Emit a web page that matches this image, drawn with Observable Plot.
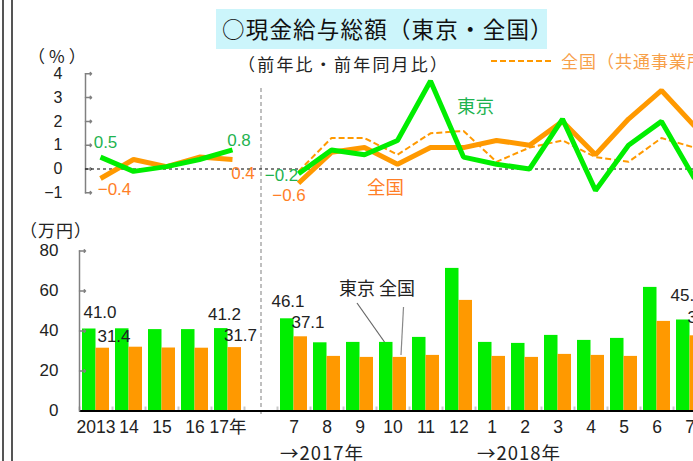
<!DOCTYPE html>
<html><head><meta charset="utf-8">
<script src="https://cdn.jsdelivr.net/npm/d3@7"></script>
<script src="https://cdn.jsdelivr.net/npm/@observablehq/plot@0.6"></script>
<style>
body{margin:0;background:#fff;}
#wrap{position:relative;width:693px;height:461px;overflow:hidden;background:#fff;font-family:"Liberation Sans","Noto Sans CJK JP",sans-serif;color:#222;}
.abs{position:absolute;white-space:nowrap;line-height:1;}
.jp{font-family:"Noto Sans CJK JP",sans-serif;}
#wrap svg{position:absolute;left:0;top:0;}
</style></head><body>
<div id="wrap">
  <div class="abs" style="left:2px;top:0;width:2px;height:461px;background:#555"></div>
  <div class="abs" style="left:11px;top:0;width:1.5px;height:461px;background:#555"></div>
  <div class="abs jp" style="left:216px;top:9px;width:331px;height:40px;background:#ccf5fb"></div>
  <div class="abs jp" id="title" style="left:222px;top:17px;font-size:22.5px;letter-spacing:1.2px;color:#111"></div>
  <div class="abs jp" id="subtitle" style="left:238px;top:55px;font-size:17px;letter-spacing:2.2px;color:#222"></div>
  <svg width="70" height="6" style="left:490px;top:58px;position:absolute"><line x1="1" x2="63" y1="3" y2="3" stroke="#ff9900" stroke-width="2" stroke-dasharray="6,3"/></svg>
  <div class="abs jp" id="legend" style="left:561px;top:52px;font-size:17px;letter-spacing:1px;color:#f7a04a"></div>
  <div class="abs jp" id="unitPct" style="left:28px;top:47px;font-size:17px;letter-spacing:4px"></div>
  <div class="abs jp" id="unitYen" style="left:20px;top:221px;font-size:17px;letter-spacing:1px"></div>
  <div class="abs jp" id="lblTokyo" style="left:457px;top:96px;font-size:18.5px;color:#1fb350"></div>
  <div class="abs jp" id="lblZenkoku" style="left:367px;top:177px;font-size:18.5px;color:#ff7f27"></div>
  <div class="abs jp" id="lblBars" style="left:339px;top:278px;font-size:18px;color:#222"></div>
  <div class="abs jp" id="yr2017" style="left:280px;top:443px;font-size:18.5px;letter-spacing:1px"></div>
  <div class="abs jp" id="yr2018" style="left:477px;top:443px;font-size:18.5px;letter-spacing:1px"></div>
</div>
<script>
// ---- text ----
const titleText = "○現金給与総額（東京・全国）";
const subtitleText = "（前年比・前年同月比）";
const legendText = "全国（共通事業所）";
const unitPctText = "（%）";
const unitYenText = "（万円）";
const tokyoName = "東京";
const zenkokuName = "全国";
const yearNotes = ["→2017年", "→2018年"];

// ---- categories ----
const annualSlots = ["2013", "2014", "2015", "2016", "2017"];
const gapSlot = "gap";
const monthlySlots = ["2017-07","2017-08","2017-09","2017-10","2017-11","2017-12",
  "2018-01","2018-02","2018-03","2018-04","2018-05","2018-06","2018-07"];
const slots = [...annualSlots, gapSlot, ...monthlySlots];
const slotLabels = ["2013","14","15","16","17年","","7","8","9","10","11","12","1","2","3","4","5","6","7"];

// ---- percent change (top) ----
const tokyoAnnualPct   = [0.5, -0.1, 0.1, 0.4, 0.8];
const zenkokuAnnualPct = [-0.4, 0.4, 0.1, 0.5, 0.4];
const tokyoMonthlyPct   = [-0.2, 0.8, 0.6, 1.2, 3.7, 0.5, 0.2, 0.0, 2.1, -0.9, 1.0, 2.0, -0.4];
const zenkokuMonthlyPct = [-0.6, 0.7, 0.9, 0.2, 0.9, 0.9, 1.2, 1.0, 2.0, 0.6, 2.1, 3.3, 1.8];
const kyotsuMonthlyPct  = [-0.1, 1.3, 1.3, 0.6, 1.5, 1.6, 0.3, 0.9, 1.2, 0.5, 0.3, 1.3, 0.9];
const pctTicks = [-1, 0, 1, 2, 3, 4];

// ---- wages, 10k yen (bottom) ----
const tokyoAnnualWage   = [41.0, 41.1, 40.7, 40.7, 41.2];
const zenkokuAnnualWage = [31.4, 31.9, 31.5, 31.4, 31.7];
const tokyoMonthlyWage   = [46.1, 34.1, 34.3, 34.3, 36.8, 71.3, 34.3, 33.8, 37.8, 35.3, 36.3, 61.8, 45.5];
const zenkokuMonthlyWage = [37.1, 27.3, 26.8, 26.8, 27.8, 55.3, 27.3, 26.8, 28.3, 27.8, 27.3, 44.8, 37.6];
const wageTicks = [0, 20, 40, 60, 80];

// ---- colors ----
const GREEN = "#00ee00", ORANGE = "#ff9900";
const GREEN_TXT = "#1fb350", ORANGE_TXT = "#ff7f27";
const FONT = "Liberation Sans, Noto Sans CJK JP, sans-serif";
const f1 = d3.format(".1f");

// HTML texts
document.getElementById("title").textContent = titleText;
document.getElementById("subtitle").textContent = subtitleText;
document.getElementById("legend").textContent = legendText;
document.getElementById("unitPct").textContent = unitPctText;
document.getElementById("unitYen").textContent = unitYenText;
document.getElementById("lblTokyo").textContent = tokyoName;
document.getElementById("lblZenkoku").textContent = zenkokuName;
document.getElementById("lblBars").textContent = tokyoName + " " + zenkokuName;
document.getElementById("yr2017").textContent = yearNotes[0];
document.getElementById("yr2018").textContent = yearNotes[1];

// ---- rows ----
const rows = (slotsArr, vals, series, seg) => slotsArr.map((slot, i) => ({slot, v: vals[i], series, seg}));
const tokyoPct = [...rows(annualSlots, tokyoAnnualPct, "tokyo", "a"), ...rows(monthlySlots, tokyoMonthlyPct, "tokyo", "m")];
const zenPct = [...rows(annualSlots, zenkokuAnnualPct, "zen", "a"), ...rows(monthlySlots, zenkokuMonthlyPct, "zen", "m")];
const kyoPct = rows(monthlySlots, kyotsuMonthlyPct, "kyo", "m");

const tokyoWage = [...rows(annualSlots, tokyoAnnualWage, "tokyo"), ...rows(monthlySlots, tokyoMonthlyWage, "tokyo")];
const zenWage = [...rows(annualSlots, zenkokuAnnualWage, "zen"), ...rows(monthlySlots, zenkokuMonthlyWage, "zen")];

const lbl = (data, opts) => Plot.text(data, {x: "slot", y: "v", text: d => f1(d.v), fontSize: 17, ...opts});

// ---- top plot ----
const topPlot = Plot.plot({
  width: 693, height: 220,
  marginLeft: 85, marginRight: 0, marginTop: 73.3, marginBottom: 27.7,
  style: {background: "transparent", fontFamily: FONT},
  x: {type: "point", domain: slots, range: [100, 694], padding: 0, axis: null},
  y: {domain: [-1, 4], axis: null},
  marks: [
    Plot.frame({anchor: "left", stroke: "#808080", strokeWidth: 1.5}),
    Plot.vector(pctTicks, {y: d => d, frameAnchor: "left", length: 6, rotate: 90, anchor: "start", stroke: "#808080", strokeWidth: 1.5}),
    Plot.text(pctTicks, {y: d => d, frameAnchor: "left", dx: -23, textAnchor: "end", text: d => d3.format("")(d), fontSize: 16, fill: "#222"}),
    Plot.ruleY([0], {stroke: "#000", strokeWidth: 1, strokeDasharray: "3,3"}),
    Plot.line(kyoPct, {x: "slot", y: "v", stroke: ORANGE, strokeWidth: 2, strokeDasharray: "6,3", strokeLinejoin: "miter", strokeLinecap: "butt"}),
    Plot.line(zenPct, {x: "slot", y: "v", z: "seg", stroke: ORANGE, strokeWidth: 5, strokeLinejoin: "miter", strokeLinecap: "butt"}),
    Plot.line(tokyoPct, {x: "slot", y: "v", z: "seg", stroke: GREEN, strokeWidth: 5, strokeLinejoin: "miter", strokeLinecap: "butt"}),
    lbl([tokyoPct[0]], {fill: GREEN_TXT, dx: 5, dy: -14.6}),
    lbl([zenPct[0]], {fill: ORANGE_TXT, dx: 14, dy: 11}),
    lbl([tokyoPct[4]], {fill: GREEN_TXT, dx: 6.5, dy: -9.5}),
    lbl([zenPct[4]], {fill: ORANGE_TXT, dx: 10.5, dy: 14.5}),
    lbl([tokyoPct[5]], {fill: GREEN_TXT, dx: -17, dy: 2}),
    lbl([zenPct[5]], {fill: ORANGE_TXT, dx: -9.5, dy: 12})
  ]
});

// ---- bottom plot ----
const bottomPlot = Plot.plot({
  width: 693, height: 461,
  marginLeft: 79, marginRight: 0, marginTop: 250.5, marginBottom: 50.5,
  style: {background: "transparent", fontFamily: FONT},
  x: {type: "band", domain: slots, range: [79, 706], paddingInner: 6 / 33, paddingOuter: 3 / 33, align: 0.5, axis: null},
  y: {domain: [0, 80], axis: null},
  marks: [
    Plot.ruleX([gapSlot], {x: d => d, stroke: "#aaa", strokeWidth: 1.5, strokeDasharray: "4,3", insetTop: -162.5, insetBottom: -6.5}),
    Plot.ruleX(slots, {x: d => d, y1: 0, y2: 2, dx: -16.5, stroke: "#c8c8c8", strokeWidth: 2}),
    Plot.barY(tokyoWage, {x: "slot", y: "v", fill: GREEN, insetRight: 13.5}),
    Plot.barY(zenWage, {x: "slot", y: "v", fill: ORANGE, insetLeft: 13.5}),
    Plot.ruleY([0], {stroke: "#000", strokeWidth: 2}),
    Plot.frame({anchor: "left", stroke: "#808080", strokeWidth: 1.5}),
    Plot.vector(wageTicks.slice(1), {y: d => d, frameAnchor: "left", length: 6, rotate: 90, anchor: "start", stroke: "#808080", strokeWidth: 1.5}),
    Plot.text(wageTicks, {y: d => d, frameAnchor: "left", dx: -21, textAnchor: "end", text: d => String(d), fontSize: 17, fill: "#222"}),
    Plot.text(slots, {x: d => d, text: (d, i) => slotLabels[i], frameAnchor: "bottom", dy: 22, fontSize: 17.5, fill: "#222"}),
    lbl([tokyoWage[0]], {fill: "#222", dx: 4, dy: -16.5}),
    lbl([zenWage[0]], {fill: "#222", dx: 18, dy: -11.7}),
    lbl([tokyoWage[4]], {fill: "#222", dx: -3.5, dy: -14}),
    lbl([zenWage[4]], {fill: "#222", dx: 12.5, dy: -12}),
    lbl([tokyoWage[5]], {fill: "#222", dx: -6, dy: -17.3}),
    lbl([zenWage[5]], {fill: "#222", dx: 14, dy: -13.8}),
    lbl([tokyoWage[17]], {fill: "#222", dx: -19.5, dy: -24.5, textAnchor: "start"}),
    lbl([zenWage[17]], {fill: "#222", dx: -2.5, dy: -17.8, textAnchor: "start"})
  ]
});

const wrap = document.getElementById("wrap");
wrap.appendChild(bottomPlot);
wrap.appendChild(topPlot);

// leader lines for the 東京 / 全国 bar annotation
const ns = "http://www.w3.org/2000/svg";
const ann = document.createElementNS(ns, "svg");
ann.setAttribute("width", 693); ann.setAttribute("height", 461);
ann.innerHTML = '<line x1="357" y1="303" x2="384.5" y2="342" stroke="#666" stroke-width="1.2"/>' +
                '<line x1="403.5" y1="307" x2="401" y2="355" stroke="#888" stroke-width="1.2"/>';
wrap.appendChild(ann);
</script>
</body></html>
